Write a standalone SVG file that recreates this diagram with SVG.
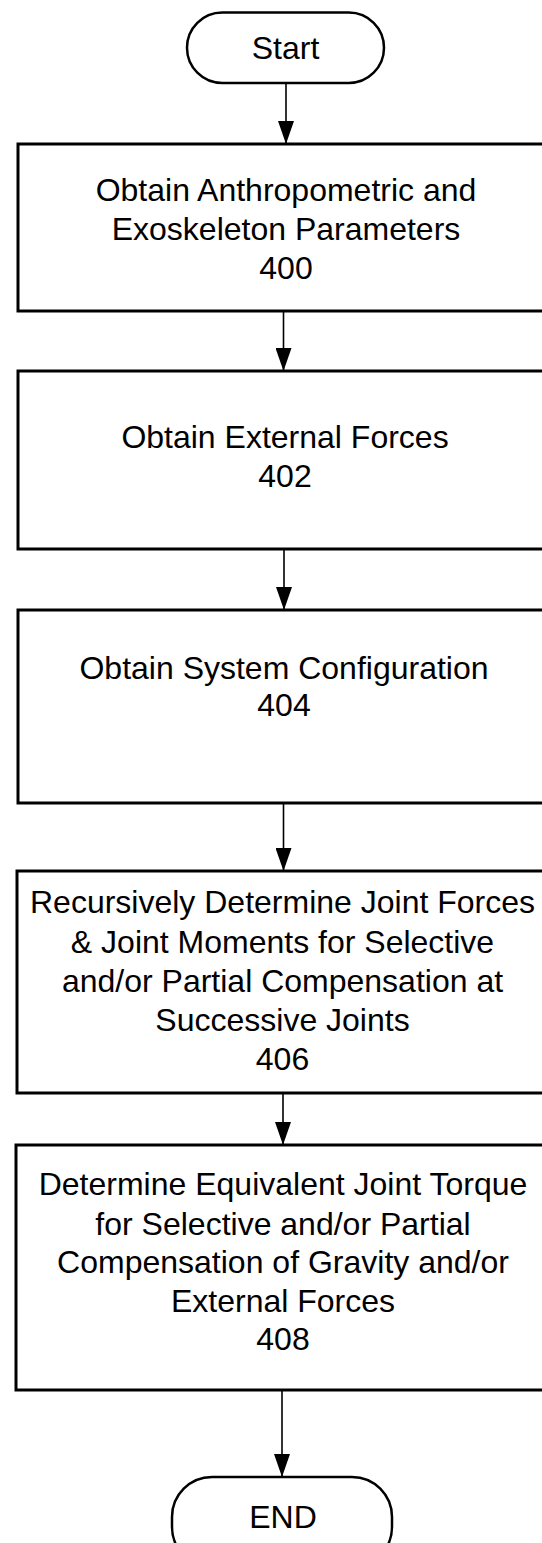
<svg xmlns="http://www.w3.org/2000/svg" width="542" height="1543" viewBox="0 0 542 1543">
  <style>
    .box { fill: #fff; stroke: #000; stroke-width: 3; }
    .term { fill: #fff; stroke: #000; stroke-width: 2.5; }
    .lbl { font-family: "Liberation Sans", Arial, sans-serif; font-size: 32px; fill: #000; text-anchor: middle; }
    .edge { stroke: #000; stroke-width: 1.6; fill: none; marker-end: url(#arrow); }
  </style>
  <defs>
    <!-- solid triangular arrowhead, tip at the end of the line -->
    <marker id="arrow" markerUnits="userSpaceOnUse" markerWidth="23" markerHeight="16" viewBox="0 0 23 16" refX="23" refY="8" orient="auto">
      <path d="M0,0 L23,8 L0,16 Z" fill="#000"/>
    </marker>
  </defs>
  <rect width="542" height="1543" fill="#fff"/>

  <g id="connectors">
    <line class="edge" x1="286" y1="83" x2="286" y2="144"/>
    <line class="edge" x1="283.5" y1="311" x2="283.5" y2="371"/>
    <line class="edge" x1="284" y1="549" x2="284" y2="610"/>
    <line class="edge" x1="283.5" y1="803" x2="283.5" y2="871"/>
    <line class="edge" x1="283" y1="1093" x2="283" y2="1145"/>
    <line class="edge" x1="282" y1="1390" x2="282" y2="1477"/>
  </g>

  <g id="start">
    <rect class="term" x="187" y="12.5" width="197" height="70.5" rx="35.25"/>
    <text class="lbl" x="285.5" y="59">Start</text>
  </g>

  <g id="step400">
    <rect class="box" x="18" y="144" width="560" height="167"/>
    <text class="lbl" x="286" y="201">Obtain Anthropometric and</text>
    <text class="lbl" x="286" y="240">Exoskeleton Parameters</text>
    <text class="lbl" x="286" y="279">400</text>
  </g>

  <g id="step402">
    <rect class="box" x="18" y="371" width="560" height="178"/>
    <text class="lbl" x="285" y="448">Obtain External Forces</text>
    <text class="lbl" x="285" y="487">402</text>
  </g>

  <g id="step404">
    <rect class="box" x="18" y="610" width="560" height="193"/>
    <text class="lbl" x="284" y="679">Obtain System Configuration</text>
    <text class="lbl" x="284" y="716">404</text>
  </g>

  <g id="step406">
    <rect class="box" x="17" y="871" width="560" height="222"/>
    <text class="lbl" x="282.5" y="913">Recursively Determine Joint Forces</text>
    <text class="lbl" x="282.5" y="953">&amp; Joint Moments for Selective</text>
    <text class="lbl" x="282.5" y="992">and/or Partial Compensation at</text>
    <text class="lbl" x="282.5" y="1031">Successive Joints</text>
    <text class="lbl" x="282.5" y="1070">406</text>
  </g>

  <g id="step408">
    <rect class="box" x="16" y="1145" width="560" height="245"/>
    <text class="lbl" x="283" y="1195">Determine Equivalent Joint Torque</text>
    <text class="lbl" x="283" y="1235">for Selective and/or Partial</text>
    <text class="lbl" x="283" y="1273">Compensation of Gravity and/or</text>
    <text class="lbl" x="283" y="1312">External Forces</text>
    <text class="lbl" x="283" y="1350">408</text>
  </g>

  <g id="end">
    <rect class="term" x="172" y="1477" width="220" height="90" rx="40"/>
    <text class="lbl" x="283" y="1528">END</text>
  </g>
</svg>
